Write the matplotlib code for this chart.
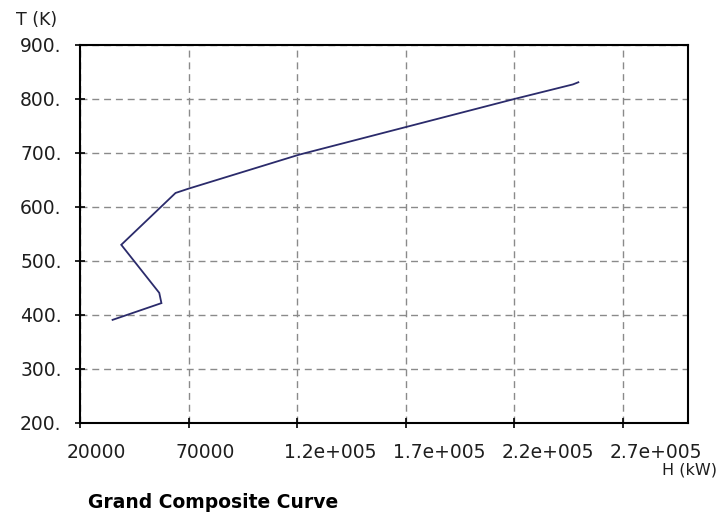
import matplotlib
matplotlib.use("Agg")
import matplotlib.pyplot as plt
from matplotlib.transforms import ScaledTranslation

# Grand composite curve: net heat flow H (kW) against shifted temperature T (K)
heat_kw = [35000, 57500, 56500, 39000, 64000, 70000, 121000, 220000, 247000, 249500]
temp_k = [391, 422, 441, 530, 626, 634, 697, 800, 827, 831]

x_ticks = [20000, 70000, 120000, 170000, 220000, 270000]
x_tick_labels = ["20000", "70000", "1.2e+005", "1.7e+005", "2.2e+005", "2.7e+005"]
y_ticks = [200, 300, 400, 500, 600, 700, 800, 900]
y_tick_labels = ["200.", "300.", "400.", "500.", "600.", "700.", "800.", "900."]

W, H = 719, 519
fig = plt.figure(figsize=(W / 100, H / 100), dpi=100)
fig.patch.set_facecolor("white")

left, right, top, bottom = 80, 688, 45, 423
ax = fig.add_axes([left / W, 1 - bottom / H, (right - left) / W, (bottom - top) / H])

ax.plot(heat_kw, temp_k, color="#2b2b6b", lw=1.3, solid_joinstyle="miter")

ax.set_xlim(20000, 300000)
ax.set_ylim(200, 900)

ax.set_xticks(x_ticks)
ax.set_xticklabels(x_tick_labels)
ax.set_yticks(y_ticks)
ax.set_yticklabels(y_tick_labels)

ax.grid(True, color="#8a8a8a", lw=1.0, linestyle=(0, (5, 3.5)))
ax.set_axisbelow(True)

for s in ax.spines.values():
    s.set_color("black")
    s.set_linewidth(1.5)

ax.tick_params(axis="both", direction="inout", length=6.5, width=1.2, color="black",
               labelsize=13.5, labelcolor="#1e1e1e")
ax.tick_params(axis="y", pad=10)
ax.tick_params(axis="x", pad=11)

# x tick labels hang to the right of their ticks
shift = ScaledTranslation(-13 / 100, 0, fig.dpi_scale_trans)
for lab in ax.get_xticklabels():
    lab.set_horizontalalignment("left")
    lab.set_transform(lab.get_transform() + shift)

fig.text(57 / W, 1 - 20 / H, "T (K)", ha="right", va="center", fontsize=12.5, color="#1e1e1e")
fig.text(717 / W, 1 - 470 / H, "H (kW)", ha="right", va="center", fontsize=11.5, color="#1e1e1e")
fig.text(88 / W, 1 - 503 / H, "Grand Composite Curve", ha="left", va="center",
         fontsize=13.5, fontweight="bold", color="black")

fig.savefig("out.png", dpi=100, facecolor="white")
